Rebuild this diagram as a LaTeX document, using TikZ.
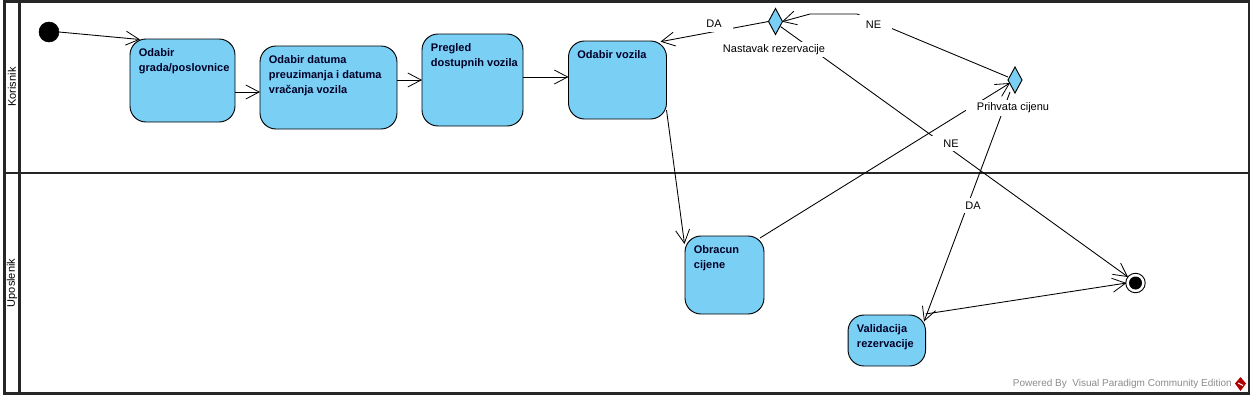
\documentclass[tikz,border=0pt]{standalone}
\usepackage{fontspec}
\setmainfont{Liberation Sans}
\usetikzlibrary{arrows.meta,shapes.geometric}
\definecolor{actblue}{HTML}{7ACFF5}
\def\px{0.75pt}
\tikzset{
  x=0.75pt,y=-0.75pt,
  lanebar/.style={line width=1.9pt,draw=black!85},
  acttext/.style={font=\fontsize{8.25}{11.25}\selectfont\bfseries,text=black!85!blue,inner sep=0pt,align=left,anchor=north west,xshift=6.5pt,yshift=-6.9pt},
  act/.style={draw=black,fill=actblue,line width=0.7pt,rounded corners=12pt,outer sep=0pt,inner sep=0pt},
  decision/.style={diamond,draw=black,fill=actblue,line width=0.7pt,outer sep=0pt,inner sep=0pt,minimum width=14*\px,minimum height=26*\px,aspect=0.54},
  flow/.style={draw=black,line width=0.65pt,-{Straight Barb[length=10pt,width=10.5pt,line width=0.6pt]}},
  guard/.style={font=\fontsize{8.25}{10}\selectfont,fill=white,inner xsep=8.25pt,inner ysep=0pt,minimum height=15*\px},
  lanename/.style={font=\fontsize{8.25}{10}\selectfont,rotate=90,inner sep=0pt},
}
\begin{document}
\begin{tikzpicture}
\useasboundingbox (0,0) rectangle (1254,400);
\fill[white] (0,0) rectangle (1254,400);
% swimlanes
\draw[lanebar] (4.5,1.5) rectangle (1249,393.5);
\draw[lanebar] (19.5,1.5) -- (19.5,393.5);
\draw[lanebar] (4.5,173) -- (1249,173);
\node[lanename] (korisnik) at (12,87) {Korisnik};
\node[lanename] (uposlenik) at (12,283) {Uposlenik};
% nodes
\node[circle,fill=black,draw=black,minimum size=20*\px,inner sep=0pt,outer sep=0pt] (init) at (49,32) {};
\node[act,minimum width=105*\px,minimum height=83*\px,label={[acttext]north west:Odabir\\grada/poslovnice}] (a) at (182.5,80.5) {};
\node[act,minimum width=137*\px,minimum height=83*\px,label={[acttext]north west:Odabir datuma\\preuzimanja i datuma\\vračanja vozila}] (b) at (328.5,87.5) {};
\node[act,minimum width=101*\px,minimum height=92*\px,label={[acttext]north west:Pregled\\dostupnih vozila}] (c) at (472.5,80) {};
\node[act,minimum width=98*\px,minimum height=78*\px,label={[acttext]north west:Odabir vozila}] (d) at (617.5,80) {};
\node[act,minimum width=79*\px,minimum height=78*\px,label={[acttext]north west:Obracun\\cijene}] (e) at (724.5,275) {};
\node[act,minimum width=77.5*\px,minimum height=51*\px,label={[acttext]north west:Validacija\\rezervacije}] (f) at (886.8,340.5) {};
\node[decision] (d1) at (775.5,21.5) {};
\node[decision] (d2) at (1015,80) {};
\node[circle,draw=black,fill=white,line width=0.7pt,minimum size=19.5*\px,inner sep=0pt,outer sep=0pt] (final) at (1135.5,283) {};
\fill[black] (final.center) circle (6.5);
% connectors
\draw[flow] (init.east) -- ([shift={(10,0.5)}]a.north west);
\draw[flow] ([shift={(0,11.5)}]a.east) -- ([shift={(0,4.5)}]b.west);
\draw[flow] ([shift={(0,-7.5)}]b.east) -- (c.west);
\draw[flow] ([shift={(0,-3)}]c.east) -- ([shift={(0,-3)}]d.west);
\draw[flow] ([shift={(0,30)}]d.east) -- ([shift={(-0.5,8)}]e.north west);
\draw[flow] ([shift={(-4,2)}]e.north east) -- ([shift={(-5,3)}]d2.center);
\draw[flow] (d1.west) -- ([shift={(-6,0.7)}]d.north east);
\draw[flow] ([shift={(-7,-3)}]d2.center) -- (857,14) -- (810,14) -- ([shift={(6.5,0.2)}]d1.center);
\draw[flow] ([shift={(5,5)}]d1.center) -- ([shift={(-7.5,-6)}]final.center);
\draw[flow] ([shift={(-5,12)}]d2.center) -- ([shift={(-1.5,6.5)}]f.north east);
\draw[flow] ([shift={(0,-1)}]f.north east) -- ([shift={(-9,0)}]final.center);
% labels
\node[guard] (lda1) at (714,24) {DA};
\node[guard,minimum height=19*\px] (lne1) at (873.5,24.5) {NE};
\node[guard] (lnast) at (774,49.5) {Nastavak rezervacije};
\node[guard,minimum height=16*\px] (lprih) at (1013,107.5) {Prihvata cijenu};
\node[guard] (lne2) at (951,143.5) {NE};
\node[guard] (lda2) at (973,205.5) {DA};
% watermark
\node[font=\fontsize{7.5}{10}\selectfont,text=black!45,inner sep=0pt,anchor=east] (vp) at (1232,384) {Powered By\ \ Visual Paradigm Community Edition};
\fill[red!70!black] (1240.5,377) -- (1246,383.5) -- (1240.5,391) -- (1235,383.5) -- cycle;
\draw[white,line width=0.8pt] (1238,383) -- (1243,385.5);
\end{tikzpicture}
\end{document}
